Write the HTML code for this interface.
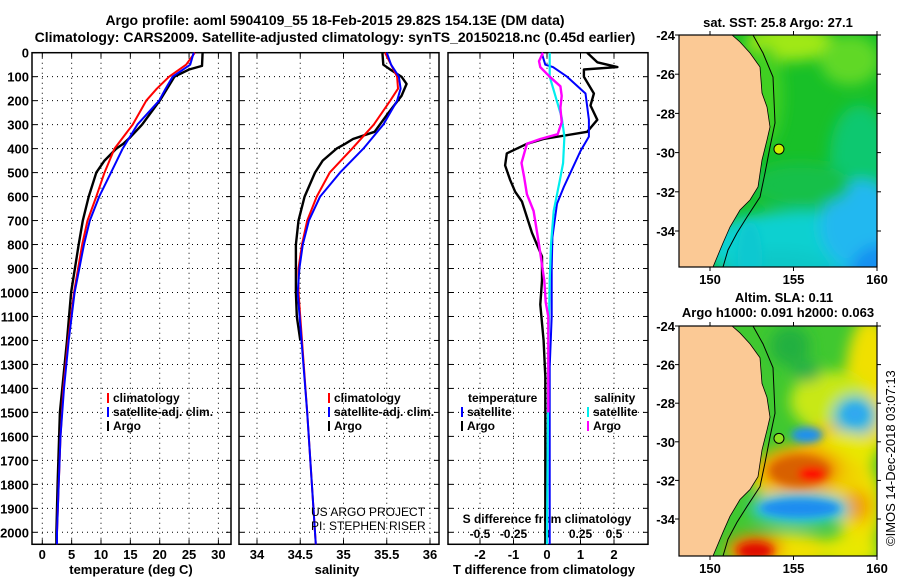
<!DOCTYPE html>
<html><head><meta charset="utf-8"><style>
body{margin:0;background:#fff}
svg{display:block;font-family:"Liberation Sans",Arial,sans-serif;font-weight:bold}
</style></head><body>
<svg id="s" width="900" height="580" viewBox="0 0 900 580">
<defs>
<clipPath id="c1"><rect x="679" y="35" width="198" height="232"/></clipPath>
<clipPath id="c2"><rect x="679" y="326" width="198" height="230"/></clipPath>
<filter id="bl" x="-50%" y="-50%" width="200%" height="200%"><feGaussianBlur stdDeviation="7"/></filter>
<filter id="bl2" x="-50%" y="-50%" width="200%" height="200%"><feGaussianBlur stdDeviation="4"/></filter>
</defs>
<text x="335" y="25" font-size="14" text-anchor="middle">Argo profile: aoml 5904109_55 18-Feb-2015 29.82S 154.13E (DM data)</text>
<text x="335" y="42" font-size="14" text-anchor="middle">Climatology: CARS2009. Satellite-adjusted climatology: synTS_20150218.nc (0.45d earlier)</text>
<g id="g"></g>
</svg>
<script>
// ---------- data ----------
const depthTicks=[0,100,200,300,400,500,600,700,800,900,1000,1100,1200,1300,1400,1500,1600,1700,1800,1900,2000];
const tempTicks=[0,5,10,15,20,25,30];
const salTicks=[34,34.5,35,35.5,36];
const tdiffTicks=[-2,-1,0,1,2];
const sdiffTicks=[-0.5,-0.25,0,0.25,0.5];
const tdiffTickLabels=["-2","-1","0","1","2"];
const sdiffTickLabels=["-0.5","-0.25","0","0.25","0.5"];
const latTicks=[-24,-26,-28,-30,-32,-34];
const lonTicks=[150,155,160];

const tClimDepth=[0,50,100,150,200,300,400,500,600,700,800,1000,1200,1400,1600,1800,2000,2050];
const tClim=[26,24.5,21.6,19.5,17.7,15.4,12.3,10.6,9.2,7.7,6.8,5.4,4.4,3.6,3.1,2.8,2.5,2.5];
const tSatDepth=[0,50,100,150,200,300,400,500,600,700,800,1000,1200,1400,1600,1800,2000,2050];
const tSat=[25.8,25.2,22.2,21,19.9,16.2,13.7,11.7,9.7,8.1,7.1,5.5,4.5,3.7,3.1,2.8,2.5,2.5];
const tArgoDepth=[0,55,70,100,200,300,350,380,400,450,500,600,700,800,1000,1200,1500,1800,2000,2050];
const tArgo=[27.3,27.2,25,22.5,20,17,15.1,13.8,12.6,10.6,9.2,7.9,6.9,6.2,4.9,4.2,3.0,2.6,2.4,2.4];

const sClimDepth=[0,100,150,200,300,400,500,600,700,800,900,1000,1200,1500,2000,2050];
const sClim=[35.48,35.62,35.63,35.54,35.35,35.10,34.84,34.69,34.58,34.52,34.48,34.48,34.52,34.58,34.67,34.68];
const sSatDepth=[0,50,100,150,200,300,400,500,600,700,800,900,1000,1500,2000,2050];
const sSat=[35.5,35.55,35.64,35.66,35.62,35.46,35.23,34.96,34.73,34.6,34.53,34.49,34.47,34.58,34.67,34.68];
const sArgoDepth=[0,50,70,100,130,180,250,330,360,380,400,450,500,600,700,800,1000,1100,1200];
const sArgo=[35.45,35.46,35.54,35.67,35.73,35.67,35.52,35.36,35.11,35.02,34.92,34.76,34.67,34.55,34.48,34.45,34.45,34.46,34.5];

const dTArgoDepth=[0,40,60,70,100,170,220,280,330,360,380,420,470,530,580,620,750,850,950,1050,1200,1350,1500,1800,2000,2050];
const dTArgo=[1.2,1.5,2.1,1.1,1.1,1.4,1.3,1.5,1.2,-0.1,-0.6,-1.2,-1.25,-1.1,-0.95,-0.75,-0.45,-0.15,-0.15,-0.2,-0.1,-0.05,-0.05,-0.05,-0.05,-0.05];
const dTSatDepth=[0,50,60,100,170,280,350,410,500,560,630,770,900,1100,1310,2000,2050];
const dTSat=[-0.16,-0.05,0.18,0.6,1.15,1.25,1.25,1.0,0.7,0.5,0.3,0.16,0.14,0.14,0.08,0.08,0.08];
const dSSatDepth=[0,100,270,350,460,520,660,800,950,1300,2000,2050];
const dSSat=[0.02,0.02,0.11,0.13,0.12,0.1,0.05,0.03,0.02,0.01,0,0];
const dSArgoDepth=[0,35,60,100,140,180,230,290,340,360,380,460,520,590,660,800,950,1040,1100,1300,1500];
const dSArgo=[-0.03,-0.06,-0.05,0.02,0.1,0.11,0.1,0.11,0.08,-0.05,-0.15,-0.19,-0.17,-0.15,-0.1,-0.06,-0.02,-0.01,0.01,0.01,0.01];

const argoLon=[154.13], argoLat=[-29.82];

// ---------- helpers ----------
const NS="http://www.w3.org/2000/svg";
const G=document.getElementById('g');
function mk(tag,attrs,parent){const e=document.createElementNS(NS,tag);for(const k in attrs)e.setAttribute(k,attrs[k]);(parent||G).appendChild(e);return e;}
const Y0=52.7,YS=0.2398;
const yD=d=>Y0+d*YS;
const P1={x0:32,x1:231}, P2={x0:239,x1:439}, P3={x0:448,x1:648};
const xT=v=>42.3+v*5.87;
const xS=v=>257+(v-34)*86.5;
const xDT=v=>547+v*33.5;
const xDS=v=>547+v*134;
const yTop=yD(0), yBot=yD(2050);

function grid(P,xs,fx,name){
  const g=mk('g',{});
  
  
  depthTicks.forEach(d=>{if(d>0)mk('line',{x1:P.x0,x2:P.x1,y1:yD(d),y2:yD(d),stroke:'#000','stroke-width':1,'stroke-dasharray':'1,4'},g);
    mk('line',{x1:P.x0,x2:P.x0+5,y1:yD(d),y2:yD(d),stroke:'#000'},g);mk('line',{x1:P.x1-5,x2:P.x1,y1:yD(d),y2:yD(d),stroke:'#000'},g);});
  xs.forEach(v=>{const x=fx(v);mk('line',{x1:x,x2:x,y1:yTop,y2:yBot,stroke:'#000','stroke-dasharray':'1,4'},g);
    mk('line',{x1:x,x2:x,y1:yTop,y2:yTop+5,stroke:'#000'},g);mk('line',{x1:x,x2:x,y1:yBot-5,y2:yBot,stroke:'#000'},g);});
  const r=mk('rect',{x:P.x0,y:yTop,width:P.x1-P.x0,height:yBot-yTop,fill:'none',stroke:'#000','stroke-width':1.5},g);
  
  
}
function line(depths,vals,fx,color,w,name){
  const p=mk('polyline',{points:depths.map((d,i)=>fx(vals[i]).toFixed(1)+','+yD(d).toFixed(1)).join(' '),fill:'none',stroke:color,'stroke-width':w,'stroke-linejoin':'round'});
  
  
}
function txt(x,y,s,opt,name){
  const t=mk('text',Object.assign({x:x,y:y,'font-size':12},opt||{}));t.textContent=s;
  
  
  return t;
}

// panel 1
grid(P1,tempTicks,xT,'temperature-panel');
depthTicks.forEach(d=>txt(29,yD(d)+5,String(d),{'text-anchor':'end','font-size':13},'depth-tick-label'));
tempTicks.forEach(v=>txt(xT(v),559,String(v),{'text-anchor':'middle','font-size':13},'temperature-tick-label'));
txt(131,574,'temperature (deg C)',{'text-anchor':'middle','font-size':13},'x-axis-title-temperature');
line(tArgoDepth,tArgo,xT,'#000',2.4,'temperature-argo-line');
line(tClimDepth,tClim,xT,'#f00',2,'temperature-climatology-line');
line(tSatDepth,tSat,xT,'#00f',2,'temperature-satellite-line');
function legend(x,y,items,name){
  items.forEach((it,i)=>{
    const r=mk('rect',{x:x,y:y+i*14-9,width:2,height:10,fill:it[1]});
    
    
    txt(x+6,y+i*14,it[0],{'font-size':12},name+'-entry');
  });
}
legend(107,402,[['climatology','#f00'],['satellite-adj. clim.','#00f'],['Argo','#000']],'temperature-legend');

// panel 2
grid(P2,salTicks,xS,'salinity-panel');
salTicks.forEach(v=>txt(xS(v),559,String(v),{'text-anchor':'middle','font-size':13},'salinity-tick-label'));
txt(337,574,'salinity',{'text-anchor':'middle','font-size':13},'x-axis-title-salinity');
line(sArgoDepth,sArgo,xS,'#000',2.4,'salinity-argo-line');
line(sClimDepth,sClim,xS,'#f00',2,'salinity-climatology-line');
line(sSatDepth,sSat,xS,'#00f',2,'salinity-satellite-line');
legend(328,402,[['climatology','#f00'],['satellite-adj. clim.','#00f'],['Argo','#000']],'salinity-legend');
txt(311,516,'US ARGO PROJECT',{'font-size':12,'font-weight':'normal'},'credit-project');
txt(311,530,'PI: STEPHEN RISER',{'font-size':12,'font-weight':'normal'},'credit-pi');

// panel 3
grid(P3,tdiffTicks,xDT,'difference-panel');
tdiffTicks.forEach((v,i)=>txt(xDT(v),559,tdiffTickLabels[i],{'text-anchor':'middle','font-size':13},'tdiff-tick-label'));
sdiffTicks.forEach((v,i)=>txt(xDS(v),538,sdiffTickLabels[i],{'text-anchor':'middle','font-size':12},'sdiff-tick-label'));
txt(547,523,'S difference from climatology',{'text-anchor':'middle','font-size':12},'sdiff-axis-title');
txt(544,574,'T difference from climatology',{'text-anchor':'middle','font-size':13},'x-axis-title-tdiff');
line(dTArgoDepth,dTArgo,xDT,'#000',2.4,'tdiff-argo-line');
line(dTSatDepth,dTSat,xDT,'#00f',2,'tdiff-satellite-line');
line(dSSatDepth,dSSat,xDS,'#0ee',2.2,'sdiff-satellite-line');
line(dSArgoDepth,dSArgo,xDS,'#f0f',2.4,'sdiff-argo-line');
txt(468,402,'temperature',{'font-size':12},'tdiff-legend-header');
txt(594,402,'salinity',{'font-size':12},'sdiff-legend-header');
legend(461,416,[['satellite','#00f'],['Argo','#000']],'tdiff-legend');
legend(587,416,[['satellite','#0ee'],['Argo','#f0f']],'sdiff-legend');

// maps
const MX0=679,MX1=877;
const xLon=l=>710+(l-150)*16.7;
const coast=[[732,35],[740,42],[750,53],[760,67],[762,93],[767,107],[770,127],[767,140],[762,160],[758,187],[750,200],[740,210],[730,227],[723,243],[713,267]];
const contour=[[753,35],[763,53],[773,77],[775,123],[770,147],[765,173],[760,197],[747,217],[737,233],[728,250],[723,267]];
function map(top,bot,latTop,latScale,blobs,clip,name){
  const yLat=l=>top+(latTop-l)*latScale;
  const sc=(bot-top)/232;
  const g=mk('g',{'clip-path':'url(#'+clip+')'});
  
  
  mk('rect',{x:MX0,y:top,width:MX1-MX0,height:bot-top,fill:blobs.bg},g);
  const bg=mk('g',{filter:'url(#bl)'},g);
  blobs.list.forEach(b=>mk('ellipse',{cx:b[0],cy:top+b[1],rx:b[2],ry:b[3],fill:b[4]},bg));
  const bg2=mk('g',{filter:'url(#bl2)'},g);
  (blobs.sharp||[]).forEach(b=>mk('ellipse',{cx:b[0],cy:top+b[1],rx:b[2],ry:b[3],fill:b[4]},bg2));
  const tr=p=>p[0]+','+(top+(p[1]-35)*sc);
  const land=mk('polygon',{points:[[MX0,35]].concat(coast,[[MX0,267]]).map(tr).join(' '),fill:'#fbc995',stroke:'#000','stroke-width':0.8},g);
  
  
  mk('polyline',{points:contour.map(tr).join(' '),fill:'none',stroke:'#000','stroke-width':1},g);
  const c=mk('circle',{cx:xLon(argoLon[0]),cy:yLat(argoLat[0]),r:5,fill:blobs.dot,stroke:'#000','stroke-width':1});
  
  
  const fr=mk('rect',{x:MX0,y:top,width:MX1-MX0,height:bot-top,fill:'none',stroke:'#000','stroke-width':1.2});
  
  
  latTicks.forEach(l=>{const y=yLat(l);mk('line',{x1:MX0-4,x2:MX0,y1:y,y2:y,stroke:'#000'});mk('line',{x1:MX1,x2:MX1+4,y1:y,y2:y,stroke:'#000'});
    txt(MX0-4,y+5,String(l),{'text-anchor':'end','font-size':13},name+'-lat-label');});
  lonTicks.forEach(l=>{const x=xLon(l);mk('line',{x1:x,x2:x,y1:top-4,y2:top,stroke:'#000'});mk('line',{x1:x,x2:x,y1:bot,y2:bot+4,stroke:'#000'});
    txt(x,bot+17,String(l),{'text-anchor':'middle','font-size':13},name+'-lon-label');});
}
map(35,267,-24,19.6,{bg:'#18c028',dot:'#ccf000',list:[
 [790,8,45,18,'#a0e818'],[850,25,30,25,'#60d828'],[765,60,18,50,'#40d020'],[860,120,30,50,'#10c870'],
 [810,210,110,35,'#10d0d0'],[860,190,40,45,'#22b8f0'],[880,240,30,30,'#1890f0'],[780,240,60,25,'#10c8c8'],
 [800,150,50,22,'#14c04a'],[840,250,30,12,'#1e90f0']],
 sharp:[[860,260,18,9,'#0000ff'],[750,222,12,35,'#10c8d0']]},'c1','sst-map');
map(326,556,-24,19.3,{bg:'#40c830',dot:'#8ee020',list:[
 [870,60,25,70,'#f0e000'],[830,75,40,30,'#c8e818'],[807,46,14,10,'#28b048'],[830,118,30,20,'#f0c000'],
 [855,90,22,20,'#20b8e0'],[845,130,30,25,'#e8e800'],[860,180,22,45,'#f0e000'],[858,180,14,16,'#f0a000'],
 [805,150,55,32,'#f0d000'],[800,144,40,22,'#f09000'],[800,183,50,16,'#30c8e0'],[780,225,55,18,'#f0e000'],[755,222,28,14,'#f08000'],[850,225,30,16,'#e8e800'],[790,20,20,20,'#20b040']],
 sharp:[[800,145,30,15,'#d86000'],[812,148,14,7,'#ff0000'],[807,109,16,8,'#1e90f0'],[800,182,40,9,'#1e8cf0'],[755,225,18,9,'#e01000'],[855,88,11,9,'#30a8f0']]},'c2','sla-map');

txt(778,27,'sat. SST: 25.8 Argo: 27.1',{'text-anchor':'middle','font-size':13},'sst-map-title');
txt(784,302,'Altim. SLA: 0.11',{'text-anchor':'middle','font-size':13},'sla-map-title');
txt(778,317,'Argo h1000: 0.091 h2000: 0.063',{'text-anchor':'middle','font-size':13},'sla-map-subtitle');
txt(0,0,'©IMOS 14-Dec-2018 03:07:13',{'font-size':13,'font-weight':'normal','transform':'translate(895,546) rotate(-90)'},'copyright-text');
</script>
</body></html>
